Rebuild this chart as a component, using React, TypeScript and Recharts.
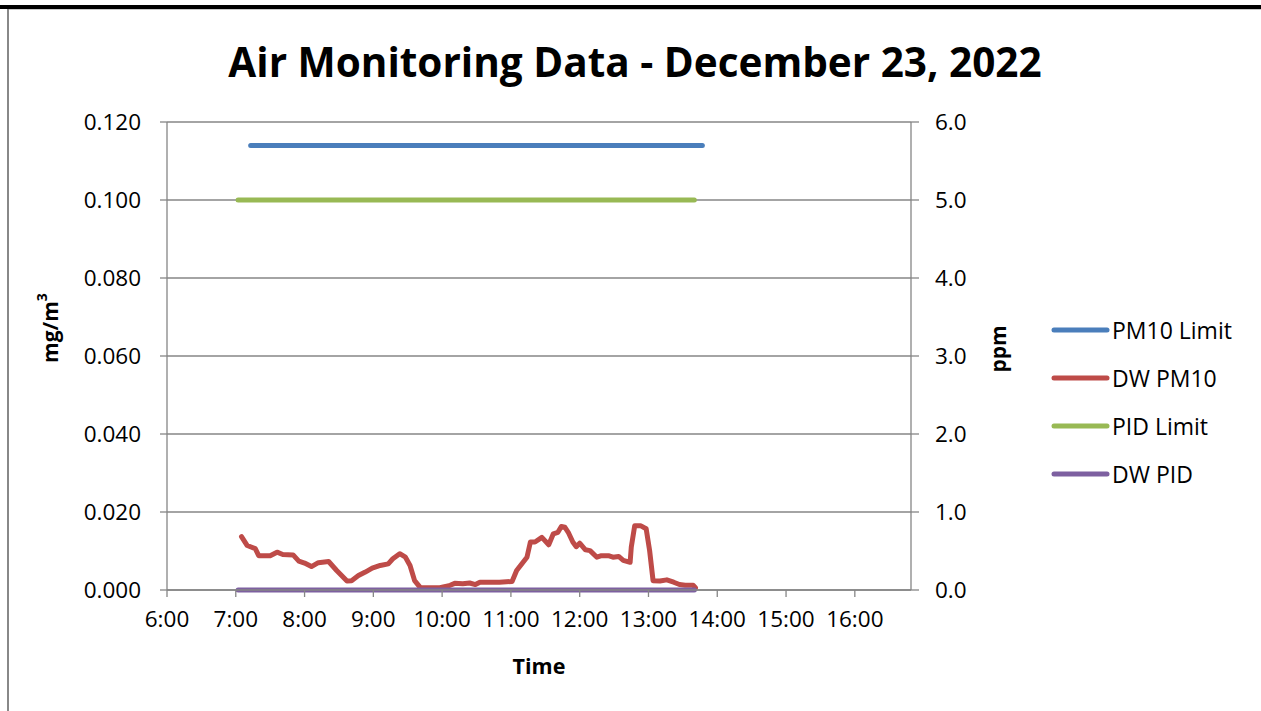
import React from 'react';
import { LineChart, Line, XAxis, YAxis, CartesianGrid } from 'recharts';

const FONT = "'Open Sans', sans-serif";

// time values are minutes after midnight
const timeTicks = [360, 420, 480, 540, 600, 660, 720, 780, 840, 900, 960];
const leftTicks = [0, 0.02, 0.04, 0.06, 0.08, 0.1, 0.12];
const rightTicks = [0, 1, 2, 3, 4, 5, 6];

const seriesNames = ['PM10 Limit', 'DW PM10', 'PID Limit', 'DW PID'];
const seriesColors = ['#4A7EBB', '#BE4B48', '#98B954', '#7D60A0'];

const pm10LimitTimes = [433, 827];
const pm10LimitValues = [0.114, 0.114];

const dwPm10Times = [
  425, 430, 437, 440, 450, 456, 461, 470, 475, 480,
  486, 492, 501, 508, 517, 521, 527, 533, 539, 546,
  553, 557, 563, 568, 572, 576, 581, 598, 607, 611,
  618, 624, 629, 633, 650, 661, 665, 674, 677, 681,
  687, 693, 697, 701, 704, 707, 710, 714, 717, 720,
  725, 729, 735, 739, 745, 749, 754, 758, 764, 765,
  768, 773, 778, 781, 784, 790, 796, 802, 807, 812,
  819, 821,
];
const dwPm10Values = [
  0.0137, 0.0114, 0.0106, 0.0088, 0.0088, 0.0097, 0.0091, 0.0090, 0.0074, 0.0069,
  0.0060, 0.0070, 0.0073, 0.0050, 0.0023, 0.0024, 0.0037, 0.0046, 0.0056, 0.0063,
  0.0067, 0.0080, 0.0093, 0.0084, 0.0063, 0.0024, 0.0006, 0.0006, 0.0012, 0.0017,
  0.0016, 0.0018, 0.0014, 0.0020, 0.0020, 0.0022, 0.0050, 0.0084, 0.0123, 0.0123,
  0.0135, 0.0116, 0.0144, 0.0148, 0.0163, 0.0161, 0.0148, 0.0123, 0.0111, 0.0120,
  0.0103, 0.0101, 0.0084, 0.0088, 0.0088, 0.0084, 0.0086, 0.0076, 0.0071, 0.0110,
  0.0165, 0.0165, 0.0157, 0.0101, 0.0024, 0.0023, 0.0026, 0.0020, 0.0014, 0.0012,
  0.0012, 0.0006,
];

const pidLimitTimes = [422, 820];
const pidLimitValues = [5, 5];

const dwPidTimes = [422, 820];
const dwPidValues = [0, 0];

const toRows = (t: number[], v: number[]) => t.map((x, i) => ({ t: x, v: v[i] }));

const pm10LimitData = toRows(pm10LimitTimes, pm10LimitValues);
const dwPm10Data = toRows(dwPm10Times, dwPm10Values);
const pidLimitData = toRows(pidLimitTimes, pidLimitValues);
const dwPidData = toRows(dwPidTimes, dwPidValues);

const GRID = '#868686';
const TICK_FONT = 22.5;
const LINE_W = 5;
const tickStyle = { fill: '#000', fontSize: TICK_FONT, fontFamily: FONT };

const LegendBox = () => (
  <svg width={211} height={190} style={{ position: 'absolute', left: 1048, top: 310 }}>
    {seriesNames.map((name, i) => (
      <g key={name}>
        <line x1={6} x2={59} y1={20 + 48 * i} y2={20 + 48 * i} stroke={seriesColors[i]} strokeWidth={LINE_W} strokeLinecap="round" />
        <text x={64} y={20 + 48 * i} dominantBaseline="central" fontSize={23} fontFamily={FONT} fill="#000">{name}</text>
      </g>
    ))}
  </svg>
);

const LeftLabel = (props: any) => {
  const vb = props.viewBox || { x: 0, y: 0, width: 0, height: 0 };
  const cx = vb.x + 50;
  const cy = vb.y + vb.height / 2 - 28;
  return (
    <text x={cx} y={cy} transform={`rotate(-90 ${cx} ${cy})`} textAnchor="middle" dominantBaseline="central" fontSize={21} fontWeight="bold" fontFamily={FONT} fill="#000">
      mg/m<tspan fontSize={14} dy={-9}>3</tspan>
    </text>
  );
};

const RightLabel = (props: any) => {
  const vb = props.viewBox || { x: 0, y: 0, width: 0, height: 0 };
  const cx = vb.x + 87;
  const cy = vb.y + vb.height / 2 - 7;
  return (
    <text x={cx} y={cy} transform={`rotate(-90 ${cx} ${cy})`} textAnchor="middle" dominantBaseline="central" fontSize={21} fontWeight="bold" fontFamily={FONT} fill="#000">
      ppm
    </text>
  );
};

const BottomLabel = (props: any) => {
  const vb = props.viewBox || { x: 0, y: 0, width: 0, height: 0 };
  const cx = vb.x + vb.width / 2;
  const cy = vb.y + 75;
  return (
    <text x={cx} y={cy} textAnchor="middle" dominantBaseline="central" fontSize={21.5} fontWeight="bold" fontFamily={FONT} fill="#000">
      Time
    </text>
  );
};

const fmtTime = (m: number) => `${Math.floor(m / 60)}:00`;

export default function App() {
  return (
    <div style={{ position: 'fixed', left: 0, top: 0, width: 1261, height: 711, background: '#fff', overflow: 'hidden' }}>
      <div style={{ position: 'absolute', left: 0, top: 5, width: 1261, height: 4, background: '#000' }} />
      <div style={{ position: 'absolute', left: 8, top: 9, width: 1253, height: 1, background: '#c8c8c8' }} />
      <div style={{ position: 'absolute', left: 7, top: 9, width: 2, height: 702, background: '#888' }} />
      <div style={{ position: 'absolute', left: 8, top: 40, width: 1254, textAlign: 'center', fontFamily: FONT, fontWeight: 'bold', fontSize: 40.5, lineHeight: '44px', color: '#000' }}>
        Air Monitoring Data - December 23, 2022
      </div>
      <div style={{ position: 'absolute', left: 0, top: 0 }}>
        <LineChart width={1261} height={711} margin={{ top: 122, right: 300, bottom: 61, left: 0 }}>
          <CartesianGrid yAxisId="left" horizontal={true} vertical={false} stroke={GRID} strokeWidth={1.3} />
          <XAxis
            dataKey="t"
            type="number"
            domain={[360, 1009]}
            ticks={timeTicks}
            tickFormatter={fmtTime}
            allowDataOverflow
            height={60}
            interval={0}
            tick={tickStyle}
            tickSize={7}
            tickMargin={14}
            stroke={GRID}
            strokeWidth={1.3}
            label={<BottomLabel />}
          />
          <YAxis
            yAxisId="left"
            orientation="left"
            domain={[0, 0.12]}
            ticks={leftTicks}
            tickFormatter={(v: number) => v.toFixed(3)}
            width={167}
            interval={0}
            tick={tickStyle}
            tickSize={7}
            tickMargin={19}
            stroke={GRID}
            strokeWidth={1.3}
            label={<LeftLabel />}
          />
          <YAxis
            yAxisId="right"
            orientation="right"
            domain={[0, 6]}
            ticks={rightTicks}
            tickFormatter={(v: number) => v.toFixed(1)}
            width={50}
            interval={0}
            tick={tickStyle}
            tickSize={8}
            tickMargin={16}
            stroke={GRID}
            strokeWidth={1.3}
            label={<RightLabel />}
          />
          <Line yAxisId="left" data={pm10LimitData} dataKey="v" name={seriesNames[0]} stroke={seriesColors[0]} strokeWidth={LINE_W} dot={false} strokeLinecap="round" strokeLinejoin="round" isAnimationActive={false} />
          <Line yAxisId="left" data={dwPm10Data} dataKey="v" name={seriesNames[1]} stroke={seriesColors[1]} strokeWidth={LINE_W} dot={false} strokeLinecap="round" strokeLinejoin="round" isAnimationActive={false} />
          <Line yAxisId="right" data={pidLimitData} dataKey="v" name={seriesNames[2]} stroke={seriesColors[2]} strokeWidth={LINE_W} dot={false} strokeLinecap="round" strokeLinejoin="round" isAnimationActive={false} />
          <Line yAxisId="right" data={dwPidData} dataKey="v" name={seriesNames[3]} stroke={seriesColors[3]} strokeWidth={LINE_W} dot={false} strokeLinecap="round" strokeLinejoin="round" isAnimationActive={false} />
        </LineChart>
      </div>
      <LegendBox />
    </div>
  );
}
